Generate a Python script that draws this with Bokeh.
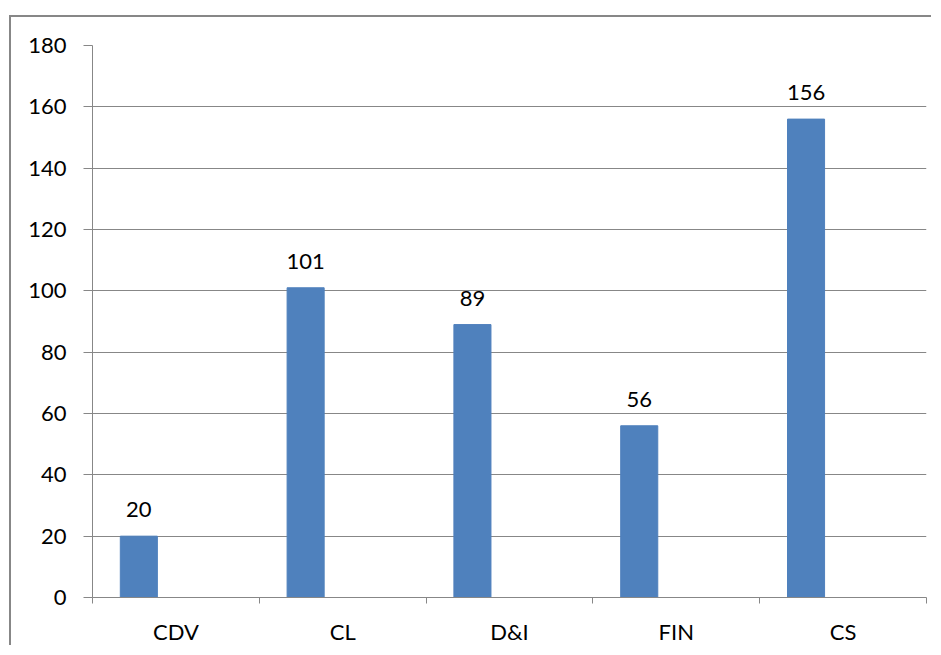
from bokeh.plotting import figure
from bokeh.models import Range1d, FixedTicker, ColumnDataSource, LabelSet
from bokeh.core.properties import value
from bokeh.embed import file_html
from bokeh.resources import INLINE

categories = ["CDV", "CL", "D&I", "FIN", "CS"]
values = [20, 101, 89, 56, 156]
y_ticks = [0, 20, 40, 60, 80, 100, 120, 140, 160, 180]

n = len(categories)
bar_w = 1 / 4.5
idx = list(range(n))
xs = [i - 0.5 + 0.75 * bar_w + bar_w / 2 for i in idx]

src = ColumnDataSource(dict(x=xs, top=values, label=[str(v) for v in values]))

GRAY = "#878787"
FONT = "Lato"
FS = "22px"

p = figure(width=922, height=630,
           x_range=Range1d(-0.5, n - 0.5), y_range=Range1d(0, 180),
           output_backend="svg", toolbar_location=None,
           min_border_left=81, min_border_top=28, min_border_right=7, min_border_bottom=48)
p.styles = {"margin-left": "9px", "margin-top": "15px",
            "border-top": "2px solid #878787", "border-left": "2px solid #878787"}
p.outline_line_color = None
p.background_fill_color = "white"
p.border_fill_color = "white"

p.vbar(x="x", top="top", bottom=0, width=bar_w, source=src, color="#4F81BD")

labels = LabelSet(x="x", y="top", text="label", source=src, y_offset=19,
                  text_align="center", text_baseline="alphabetic",
                  text_font=value(FONT), text_font_size=FS, text_color="black")
p.add_layout(labels)

# x axis
p.xaxis.ticker = FixedTicker(ticks=idx, minor_ticks=[i - 0.5 for i in range(n + 1)])
p.xaxis.major_label_overrides = {i: c for i, c in zip(idx, categories)}
p.xaxis.major_tick_out = 0
p.xaxis.major_tick_in = 0
p.xaxis.minor_tick_out = 6
p.xaxis.minor_tick_in = 0
p.xaxis.minor_tick_line_color = GRAY
p.xaxis.axis_line_color = GRAY
p.xaxis.major_label_standoff = 14
p.xaxis.major_label_text_font = FONT
p.xaxis.major_label_text_font_size = FS
p.xaxis.major_label_text_color = "black"
p.xgrid.visible = False

# y axis
p.yaxis.ticker = FixedTicker(ticks=y_ticks)
p.yaxis.major_tick_out = 9
p.yaxis.major_tick_in = 0
p.yaxis.minor_tick_out = 0
p.yaxis.minor_tick_in = 0
p.yaxis.major_tick_line_color = GRAY
p.yaxis.axis_line_color = GRAY
p.yaxis.major_label_standoff = 17
p.yaxis.major_label_text_font = FONT
p.yaxis.major_label_text_font_size = FS
p.yaxis.major_label_text_color = "black"
p.ygrid.ticker = FixedTicker(ticks=y_ticks)
p.ygrid.grid_line_color = GRAY
p.ygrid.grid_line_width = 1

open("out.html", "w").write(file_html(p, INLINE))
